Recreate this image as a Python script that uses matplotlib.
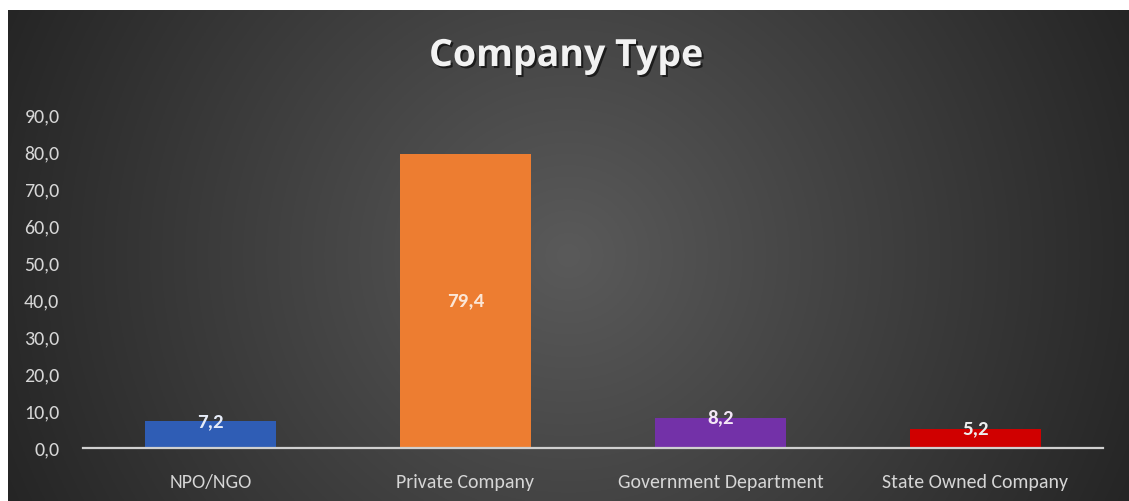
import numpy as np
import matplotlib
matplotlib.use("Agg")
import matplotlib.pyplot as plt
import matplotlib.patheffects as pe

# Share of respondents by company type (%)
categories = ["NPO/NGO", "Private Company", "Government Department", "State Owned Company"]
values = [7.2, 79.4, 8.2, 5.2]
bar_colors = ["#2f5db5", "#ed7d31", "#7331a8", "#d00000"]
label_colors = ["#e6ecf8", "#fbe6d6", "#f3e6f6", "#eeeeee"]
yticks = [0, 10, 20, 30, 40, 50, 60, 70, 80, 90]

plt.rcParams['font.family'] = ['Carlito', 'Liberation Sans Narrow', 'DejaVu Sans']

W, H = 1129, 501
fig = plt.figure(figsize=(W / 100, H / 100), dpi=100)
fig.patch.set_facecolor("white")

# dark radial gradient panel
bg = fig.add_axes([8 / W, 0, (W - 8) / W, (H - 10) / H])
bg.axis("off")
gx, gy = np.meshgrid(np.linspace(-1, 1, 600), np.linspace(-1, 1, 300))
r = np.sqrt(gx ** 2 + (gy * 0.45) ** 2)
r = np.clip(r / 1.1, 0, 1)
inner, outer = 0x5a / 255, 0x25 / 255
shade = inner + (outer - inner) * r
bg.imshow(np.dstack([shade, shade, shade]), aspect="auto", extent=[0, 1, 0, 1])

ax = fig.add_axes([83 / W, 53 / H, 1020 / W, 333 / H])
ax.patch.set_alpha(0)

x = np.arange(len(categories))
bars = ax.bar(x, values, width=0.51, color=bar_colors, zorder=2)

ax.set_xlim(-0.5, len(categories) - 0.5)
ax.set_ylim(0, 90)
ax.set_yticks(yticks)
ax.set_yticklabels([f"{v:.1f}".replace(".", ",") for v in yticks])
ax.set_xticks(x)
ax.set_xticklabels(categories)
ax.tick_params(axis="both", length=0, colors="#d6d6d6", labelsize=14.3)
ax.tick_params(axis="x", pad=19)
ax.tick_params(axis="y", pad=17)

for side in ["top", "right", "left"]:
    ax.spines[side].set_visible(False)
ax.spines["bottom"].set_color("#d0d0d0")
ax.spines["bottom"].set_linewidth(1.6)
ax.spines["bottom"].set_zorder(3)

for i, (v, c) in enumerate(zip(values, label_colors)):
    txt = f"{v:.1f}".replace(".", ",")
    if v > 40:
        ax.text(i, v / 2, txt, ha="center", va="center", color=c,
                fontsize=15, fontweight="bold", zorder=4)
    else:
        ax.text(i, v, txt, ha="center", va="center", color=c,
                fontsize=15, fontweight="bold", zorder=4)

fig.text(566 / W, 1 - 56 / H, "Company Type", ha="center", va="center",
         color="#f2f2f2", fontsize=27, fontweight="bold",
         family=["Open Sans", "DejaVu Sans"],
         path_effects=[pe.withSimplePatchShadow(offset=(1.5, -1.5),
                                                shadow_rgbFace="black", alpha=0.6)])

fig.savefig("out.png", dpi=100)
